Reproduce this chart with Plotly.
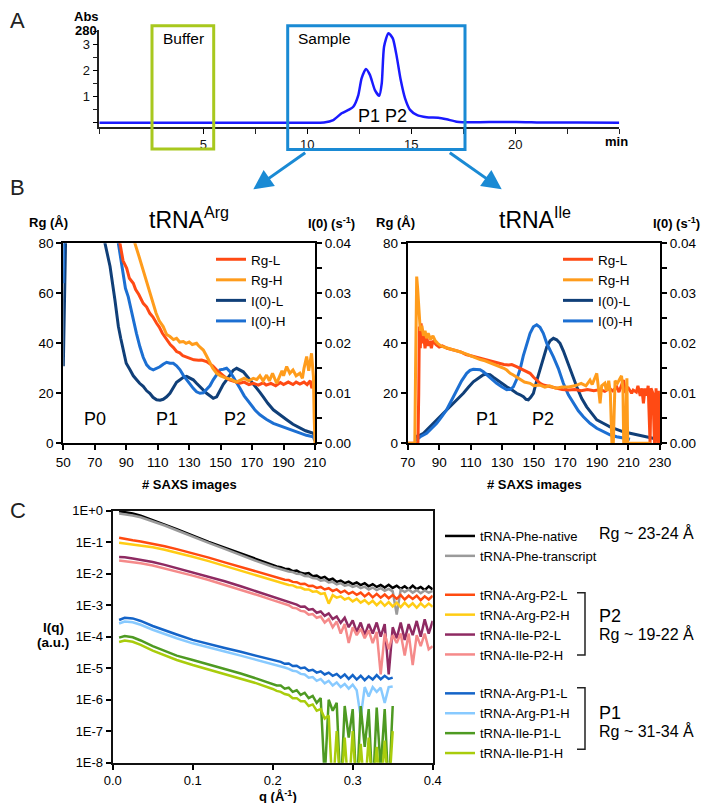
import plotly.graph_objects as go

FONT = "Liberation Sans, Arial, sans-serif"
# the page body has an 8 px margin, so the figure is sized to fit inside it
OFF = 8
W, H = 710 - 2 * OFF, 811 - 2 * OFF


def px(x):
    return (x - OFF) / W


def py(y):
    return 1 - (y - OFF) / H


# ---------------- Panel A : chromatogram ----------------
T_MIN = [0, 5, 10, 10.8, 11.25, 11.65, 12.0, 12.21, 12.45, 12.61, 12.82, 13.01, 13.25, 13.46,
         13.58, 13.69, 13.9, 14.11, 14.3, 14.49, 14.7, 14.94, 15.26, 15.74, 16.3, 16.7, 17.18,
         17.98, 19.0, 19.59, 20.5, 21.19, 23.0, 25.0]
ABS_280 = [0, 0, 0, 0.01, 0.1, 0.36, 0.5, 0.61, 1.05, 1.70, 2.06, 1.83, 1.25, 1.03,
           1.51, 2.91, 3.43, 3.23, 2.53, 1.64, 0.93, 0.49, 0.30, 0.21, 0.19, 0.13, 0.04,
           0.015, 0.025, 0.03, 0.02, 0.005, 0.01, 0.0]
A_XTICKS = [5, 10, 15, 20]
A_YTICKS = [0, 1, 2, 3]
A_YTICKTEXT = ["", "1", "2", "3"]

# ---------------- Panel B : tRNA-Arg ----------------
ARG_RGL_X = [84, 86, 88, 90.3, 92, 94.5, 96, 98, 100.8, 103, 105, 107, 109.3, 111, 113, 115.7, 118,
             120, 122, 124, 126, 128, 130.5, 133, 136, 138, 141, 143, 145, 147.5, 150, 152, 153.8,
             156, 159, 162.3, 165, 168, 170.8, 174, 177, 179, 182, 185, 188, 190, 193, 196, 198,
             200.4, 203, 205, 207, 208, 209, 210]
ARG_RGL = [90, 80, 73, 70, 66, 64, 61.5, 59.5, 56, 54.5, 52, 50.5, 48, 46.5, 44, 41.3, 39.5,
           38.3, 36.7, 36.2, 35, 34.6, 34, 33.4, 33.2, 33.3, 32.7, 32, 31, 29.3, 28, 27, 26,
           25.3, 24.7, 24, 24.5, 23.5, 24, 23.3, 24.2, 23.3, 24, 23, 24.3, 23.5, 24.5, 23.5, 24.5,
           23.7, 24.5, 23.5, 25, 22, 24.5, 23]
ARG_RGH_X = [94, 95.5, 98, 100.8, 103, 105, 107.2, 109, 111, 113.5, 115.7, 117.8, 120, 122, 124,
             126.3, 128, 130, 132, 134.7, 136, 139, 141, 143.2, 145, 147.5, 150, 153.8, 157, 160,
             162.3, 165, 168, 170.8, 173, 175, 177, 179.2, 181, 183, 185.6, 187, 189, 190, 192,
             194, 196, 198, 200.4, 202, 203, 204.7, 206, 207.8, 208.5, 209, 209.5, 210]
ARG_RGH = [90, 80, 75, 69.3, 64, 60, 56, 52, 49, 46.7, 43.5, 42.7, 41.5, 42, 40.5,
           40.7, 40, 40.5, 39.5, 40, 39, 37.3, 35, 32, 30, 28, 27, 26, 25.5, 24.5,
           25.3, 26, 25, 26, 25.5, 27, 25, 27.3, 25, 28, 24, 26, 29, 27, 30.7,
           28, 29.3, 27, 28, 26, 30, 34.7, 29, 36, 30, 26.7, 10, 0]
ARG_I0L_X = [50, 51, 52, 60, 70, 76.5, 79.7, 82.8, 85, 86.5, 88.1, 90, 92.4, 94.5, 96.6, 98.5,
             100.8, 103, 105, 107, 109.3, 111.5, 113.5, 115.7, 117.8, 120, 122, 124.2, 126.3,
             128.4, 130.5, 132.6, 134.7, 136.9, 139, 141.1, 143.2, 145.3, 147.5, 149.6, 151.7,
             153.8, 156, 158, 160.2, 162.3, 164.4, 166.5, 168.6, 170.8, 173, 175, 177.1, 180,
             183.5, 187, 192, 196, 200.4, 204, 208.9, 210]
ARG_I0L = [0.0154, 0.03, 0.05, 0.08, 0.08, 0.04, 0.0354, 0.0287, 0.0234, 0.021, 0.0187, 0.016,
           0.0147, 0.0135, 0.0127, 0.012, 0.0114, 0.0105, 0.0100, 0.0092, 0.0087, 0.0086, 0.0088,
           0.0093, 0.0100, 0.0112, 0.0122, 0.0127, 0.0132, 0.0134, 0.0131, 0.0127, 0.0120, 0.0113,
           0.0106, 0.0100, 0.0095, 0.0090, 0.0093, 0.0107, 0.0118, 0.0127, 0.0138, 0.0146, 0.0150,
           0.0147, 0.0143, 0.0135, 0.0127, 0.0120, 0.0110, 0.0102, 0.0093, 0.0080, 0.0067, 0.0058,
           0.0047, 0.0038, 0.0030, 0.0025, 0.0020, 0.0012]
ARG_I0H_X = [50, 50.5, 51, 60, 80, 85, 86.5, 88.1, 89.5, 91.3, 93, 94.5, 96.5, 98.7, 100.8, 103,
             105, 107.2, 109, 111.4, 113.5, 115.7, 117.8, 119.9, 122, 124.2, 126.3, 128.4, 130.5,
             132.6, 134.7, 136.9, 139, 141, 143.2, 145.3, 147.5, 149.6, 151.7, 153.8, 156, 158,
             160, 162.3, 165, 168.6, 172, 175, 179, 183.5, 188, 192, 196, 200.4, 204.5, 208.9, 210]
ARG_I0H = [0.032, 0.04, 0.06, 0.08, 0.08, 0.04, 0.037, 0.0347, 0.031, 0.0293, 0.0268, 0.0253,
           0.022, 0.0193, 0.0172, 0.0157, 0.0150, 0.0147, 0.0149, 0.0153, 0.0158, 0.0162, 0.0160,
           0.0160, 0.0155, 0.0147, 0.0136, 0.0127, 0.0118, 0.0110, 0.0103, 0.0100, 0.0101, 0.0107,
           0.0115, 0.0127, 0.0138, 0.0147, 0.0148, 0.0150, 0.0143, 0.0133, 0.0122, 0.0110, 0.0095,
           0.0080, 0.0066, 0.0057, 0.0048, 0.0040, 0.0035, 0.0030, 0.0025, 0.0020, 0.0016, 0.0013,
           0.0005]

# ---------------- Panel B : tRNA-Ile ----------------
ILE_RGL_X = [70, 76.5, 77, 77.4, 78, 78.5, 79.2, 80, 81, 82, 83, 84, 85, 86, 88, 90, 92, 95, 98,
             101, 104, 107, 110, 113, 116, 119, 122, 125, 128, 131, 134, 136, 139, 141.5, 143.4,
             145.5, 147.6, 149.7, 151.8, 154, 156, 158, 160.3, 164.5, 168, 172, 176, 180, 184, 188,
             192, 195, 198, 200, 202.6, 204, 206.8, 208, 210, 212, 213, 215, 216, 217.5, 218.5,
             219.5, 220.5, 221.5, 222.5, 223.7, 224.3, 225.5, 226.5, 227.5, 228.5, 229, 229.5, 230]
ILE_RGL = [0, 0, 20, 46.7, 38, 48, 40, 44, 38, 43, 39, 41, 38, 41, 39.5, 38.5, 39, 38, 37.5,
           37, 36.5, 35.5, 35, 34.5, 34, 33.5, 33, 32.3, 32, 31.5, 31.3, 31.5, 30.7, 30, 29.3,
           28.7, 28, 26.5, 25.3, 24, 23.3, 23, 22.7, 22, 21.5, 21.3, 21.5, 21, 21.5, 21,
           21.5, 20.8, 22, 21, 22.5, 20.5, 25.3, 21, 22, 20, 21.3, 20.5, 23, 19, 22,
           16, 22, 19, 23, 0, 22, 20, 0, 22, 0, 21, 0, 0]
ILE_RGH_X = [70, 74.5, 75, 75.7, 76.3, 76.8, 77.5, 78, 79, 80, 81, 82, 83, 84.5, 86, 87.5, 89, 91,
             93, 95, 98, 101, 104, 107, 110, 113, 116, 119, 122, 125, 128, 131, 132.8, 135, 137,
             139, 141.2, 144, 147.6, 150, 153.9, 157, 160, 164, 168, 172, 176, 180, 183, 185.6,
             187, 189.9, 191, 192, 193, 195, 196, 197.5, 198.5, 199.5, 200.4, 201.5, 203, 205.6,
             206.5, 207, 208, 209, 209.5, 224]
ILE_RGH = [0, 0, 30, 66.7, 62, 58, 50, 45, 47, 43, 45, 42, 44, 41.5, 43, 41, 40, 39,
           38.5, 38, 37.5, 37, 36.5, 35.8, 35, 34.2, 33.5, 33, 32.3, 31.5, 30.8, 30, 29.3, 28, 27.3,
           26.5, 25.3, 24.5, 24, 23, 23.3, 22.5, 23, 22, 22.5, 22.5, 23, 24, 23, 25.3,
           23.5, 28, 22, 16, 23, 24, 21, 25, 20, 0, 0, 25, 24, 27,
           22, 0, 0, 26, 0, 0]
ILE_I0L_X = [74.7, 77, 80, 83, 86.3, 89.5, 92.6, 95.8, 99, 102, 105.3, 108.5, 111.6, 114.8, 118,
             120, 122.2, 124.3, 126.4, 129.6, 132.8, 136, 139.1, 141.3, 143.4, 145, 146.5, 148,
             149.7, 151.8, 153.9, 156, 158.2, 160.3, 162.4, 164.5, 166.6, 168.7, 170.8, 174, 177.2,
             180.3, 183.5, 186.7, 189.9, 194, 198.3, 202.5, 206.8, 211, 215.2, 219.5, 223.7, 227, 230]
ILE_I0L = [0.0013, 0.0015, 0.0020, 0.0030, 0.0040, 0.0050, 0.0060, 0.0070, 0.0080, 0.0090, 0.0100,
           0.0112, 0.0123, 0.0130, 0.0137, 0.0138, 0.0137, 0.0132, 0.0127, 0.0120, 0.0113, 0.0107,
           0.0100, 0.0097, 0.0093, 0.0088, 0.0087, 0.0092, 0.0100, 0.0125, 0.0147, 0.0173, 0.0193,
           0.0205, 0.0210, 0.0207, 0.0200, 0.0185, 0.0167, 0.0140, 0.0113, 0.0090, 0.0073, 0.0060,
           0.0047, 0.0040, 0.0033, 0.0028, 0.0023, 0.0020, 0.0017, 0.0013, 0.0010, 0.0008, 0.0007]
ILE_I0H_X = [74.7, 78, 82, 85, 88.4, 91.5, 94.7, 98, 101.1, 104.2, 107.4, 109.5, 111.6, 113.8,
             115.9, 118, 120.1, 123.3, 126.4, 129.6, 132.8, 135, 137, 139, 141.2, 143.3, 145.5,
             147.6, 149.7, 151.8, 153.9, 156, 158.2, 160.3, 162.4, 165.5, 168.7, 171.9, 175.1,
             178.2, 181.4, 185.6, 189.9, 194, 198.3, 202.5, 206.8, 211]
ILE_I0H = [0.0005, 0.0013, 0.0020, 0.0030, 0.0040, 0.0053, 0.0067, 0.0087, 0.0107, 0.0125, 0.0140,
           0.0146, 0.0148, 0.0148, 0.0147, 0.0143, 0.0137, 0.0128, 0.0120, 0.0113, 0.0107, 0.0108,
           0.0113, 0.0127, 0.0147, 0.0175, 0.0200, 0.0220, 0.0233, 0.0237, 0.0232, 0.0220, 0.0200,
           0.0187, 0.0173, 0.0150, 0.0120, 0.0097, 0.0080, 0.0065, 0.0053, 0.0040, 0.0030, 0.0023,
           0.0017, 0.0013, 0.0010, 0.0008]

B_LEFT_XTICKS = [50, 70, 90, 110, 130, 150, 170, 190, 210]
B_RIGHT_XTICKS = [70, 90, 110, 130, 150, 170, 190, 210, 230]
RG_TICKS = [0, 20, 40, 60, 80]
I0_TICKS = [0, 0.01, 0.02, 0.03, 0.04]
I0_TICKTEXT = ["0.00", "0.01", "0.02", "0.03", "0.04"]

# ---------------- Panel C : SAXS curves (log10 I) ----------------
Q_C = [0.008, 0.015, 0.025, 0.035, 0.05, 0.065, 0.08, 0.10, 0.12, 0.14, 0.16, 0.18, 0.20,
       0.205, 0.21, 0.215, 0.22, 0.225, 0.23, 0.235, 0.24, 0.245, 0.25, 0.255, 0.26, 0.265,
       0.27, 0.275, 0.28, 0.285, 0.29, 0.295, 0.30, 0.305, 0.31, 0.315, 0.32, 0.325, 0.33,
       0.335, 0.34, 0.345, 0.35, 0.355, 0.36, 0.365, 0.37, 0.375, 0.38, 0.385, 0.39, 0.395, 0.40]
PHE_NATIVE = [-0.02, -0.04, -0.09, -0.16, -0.29, -0.44, -0.59, -0.80, -0.99, -1.17, -1.36, -1.55, -1.72,
              -1.77, -1.79, -1.84, -1.85, -1.92, -1.90, -1.97, -2.00, -1.98, -2.08, -2.06, -2.14, -2.10,
              -2.20, -2.16, -2.26, -2.22, -2.30, -2.25, -2.33, -2.28, -2.36, -2.30, -2.40, -2.33, -2.42,
              -2.36, -2.44, -2.35, -2.45, -2.38, -2.48, -2.40, -2.50, -2.38, -2.49, -2.42, -2.52, -2.40, -2.50]
PHE_TRANSCRIPT = [-0.09, -0.11, -0.15, -0.21, -0.33, -0.47, -0.62, -0.83, -1.02, -1.21, -1.41, -1.60, -1.78,
                  -1.82, -1.86, -1.88, -1.93, -1.95, -2.00, -2.01, -2.07, -2.08, -2.14, -2.15, -2.22, -2.20,
                  -2.28, -2.26, -2.34, -2.30, -2.38, -2.35, -2.42, -2.38, -2.46, -2.41, -2.50, -2.44, -2.52,
                  -2.46, -2.54, -2.48, -2.56, -3.30, -2.50, -2.58, -2.50, -2.60, -2.52, -2.62, -2.53, -2.60, -2.55]
ARG_P2_L = [-0.86, -0.90, -0.94, -0.98, -1.05, -1.13, -1.22, -1.35, -1.49, -1.64, -1.79, -1.94, -2.08,
            -2.12, -2.15, -2.19, -2.20, -2.26, -2.27, -2.33, -2.32, -2.39, -2.38, -2.45, -2.42, -2.50,
            -2.46, -2.55, -2.50, -2.60, -2.54, -2.64, -2.58, -2.67, -2.60, -2.72, -2.62, -2.75, -2.64,
            -2.76, -2.66, -2.78, -2.68, -2.80, -2.68, -2.82, -2.70, -2.80, -2.70, -2.84, -2.72, -2.82, -2.70]
ARG_P2_H = [-1.02, -1.04, -1.07, -1.10, -1.16, -1.24, -1.33, -1.46, -1.60, -1.75, -1.90, -2.05, -2.20,
            -2.24, -2.28, -2.30, -2.36, -2.37, -2.43, -2.44, -2.50, -2.50, -2.57, -2.56, -2.64, -2.62,
            -2.95, -2.68, -2.76, -2.72, -2.82, -2.77, -2.88, -2.80, -2.92, -2.84, -2.96, -2.86, -3.00,
            -2.88, -3.02, -2.90, -3.04, -2.92, -3.06, -2.92, -3.05, -2.94, -3.08, -2.94, -3.06, -2.95, -3.05]
ILE_P2_L = [-1.47, -1.48, -1.52, -1.56, -1.63, -1.72, -1.82, -1.95, -2.10, -2.24, -2.40, -2.56, -2.73,
            -2.76, -2.82, -2.84, -2.90, -2.93, -2.98, -3.05, -3.04, -3.14, -3.12, -3.24, -3.20, -3.34,
            -3.26, -3.44, -3.36, -3.56, -3.40, -3.70, -3.48, -3.85, -3.55, -3.95, -3.60, -3.90, -3.55,
            -4.00, -3.60, -5.20, -3.70, -4.05, -3.55, -4.10, -3.60, -3.95, -3.50, -4.00, -3.45, -3.90, -3.50]
ILE_P2_H = [-1.58, -1.60, -1.63, -1.67, -1.74, -1.83, -1.93, -2.06, -2.20, -2.35, -2.51, -2.67, -2.84,
            -2.88, -2.92, -2.98, -3.00, -3.08, -3.10, -3.18, -3.20, -3.30, -3.28, -3.40, -3.36, -3.55,
            -3.44, -3.70, -3.52, -3.90, -3.60, -4.20, -3.70, -3.95, -3.75, -4.05, -3.80, -4.20, -3.85,
            -5.20, -3.90, -4.40, -3.95, -4.20, -3.90, -4.60, -3.90, -4.90, -3.95, -4.30, -3.90, -4.40, -4.30]
ARG_P1_L = [-3.47, -3.40, -3.42, -3.50, -3.66, -3.80, -3.93, -4.10, -4.24, -4.36, -4.48, -4.61, -4.74,
            -4.78, -4.80, -4.86, -4.85, -4.93, -4.92, -5.00, -4.98, -5.08, -5.05, -5.14, -5.10, -5.20,
            -5.14, -5.24, -5.18, -5.30, -5.20, -5.34, -5.22, -5.36, -5.24, -5.38, -5.26, -5.36, -5.22,
            -5.35, -5.24, -5.34, -5.30]
ARG_P1_H = [-3.58, -3.52, -3.54, -3.62, -3.78, -3.92, -4.05, -4.21, -4.35, -4.47, -4.60, -4.73, -4.86,
            -4.90, -4.94, -4.98, -5.02, -5.08, -5.10, -5.18, -5.20, -5.30, -5.28, -5.40, -5.34, -5.48,
            -5.40, -5.55, -5.45, -5.60, -5.50, -5.65, -5.52, -5.70, -6.55, -5.60, -5.90, -5.60, -5.75,
            -5.62, -6.10, -5.60, -5.58]
ILE_P1_L = [-4.03, -3.98, -4.02, -4.12, -4.30, -4.46, -4.60, -4.74, -4.88, -5.02, -5.17, -5.33, -5.50,
            -5.55, -5.55, -5.65, -5.62, -5.75, -5.70, -5.85, -5.78, -5.95, -5.88, -6.10, -5.95, -8.50,
            -6.00, -6.35, -6.10, -9.00, -6.20, -7.20, -6.30, -9.00, -6.20, -7.50, -6.30, -9.00, -6.25,
            -8.20, -6.30, -9.00, -6.20]
ILE_P1_H = [-4.17, -4.12, -4.16, -4.26, -4.44, -4.60, -4.74, -4.90, -5.04, -5.18, -5.32, -5.48, -5.66,
            -5.72, -5.75, -5.82, -5.85, -5.95, -5.95, -6.05, -6.05, -6.20, -6.15, -6.35, -6.30, -6.60,
            -6.50, -9.00, -7.00, -9.00, -7.20, -9.00, -7.00, -9.00, -7.40, -9.00, -7.20, -9.00, -7.50,
            -9.00, -7.30, -9.00, -7.00]

C_NAMES = ["tRNA-Phe-native", "tRNA-Phe-transcript",
           "tRNA-Arg-P2-L", "tRNA-Arg-P2-H", "tRNA-Ile-P2-L", "tRNA-Ile-P2-H",
           "tRNA-Arg-P1-L", "tRNA-Arg-P1-H", "tRNA-Ile-P1-L", "tRNA-Ile-P1-H"]
C_SERIES = [PHE_NATIVE, PHE_TRANSCRIPT, ARG_P2_L, ARG_P2_H, ILE_P2_L, ILE_P2_H,
            ARG_P1_L, ARG_P1_H, ILE_P1_L, ILE_P1_H]
C_GROUPS = ["phe", "phe", "p2", "p2", "p2", "p2", "p1", "p1", "p1", "p1"]
C_COLORS = ["#000000", "#9a9a9a", "#ff4a10", "#ffcc14", "#8e2a62", "#f58a8a",
            "#1464c8", "#88caff", "#4e9a22", "#a9cc0c"]
C_YTICKS = [1, 1e-1, 1e-2, 1e-3, 1e-4, 1e-5, 1e-6, 1e-7, 1e-8]
C_YTICKTEXT = ["1E+0", "1E-1", "1E-2", "1E-3", "1E-4", "1E-5", "1E-6", "1E-7", "1E-8"]
C_XTICKS = [0, 0.1, 0.2, 0.3, 0.4]
C_XTICKTEXT = ["0.0", "0.1", "0.2", "0.3", "0.4"]

COL_RGL = "#ff4a14"
COL_RGH = "#ff9c1c"
COL_I0L = "#103f78"
COL_I0H = "#1c6fd2"

fig = go.Figure()

fig.add_trace(go.Scatter(x=T_MIN, y=ABS_280, mode="lines", showlegend=False,
                         line=dict(color="#1a1aff", width=2.5, shape="spline", smoothing=0.6),
                         xaxis="x", yaxis="y", hoverinfo="skip"))


def add_b(xs, ys, name, color, xa, ya, leg, rank):
    fig.add_trace(go.Scatter(x=xs, y=ys, mode="lines", name=name,
                             line=dict(color=color, width=3),
                             xaxis=xa, yaxis=ya, legend=leg, legendrank=rank))


add_b(ARG_I0L_X, ARG_I0L, "I(0)-L", COL_I0L, "x2", "y2", "legend", 3)
add_b(ARG_I0H_X, ARG_I0H, "I(0)-H", COL_I0H, "x2", "y2", "legend", 4)
add_b(ARG_RGL_X, ARG_RGL, "Rg-L", COL_RGL, "x2", "y3", "legend", 1)
add_b(ARG_RGH_X, ARG_RGH, "Rg-H", COL_RGH, "x2", "y3", "legend", 2)

add_b(ILE_I0L_X, ILE_I0L, "I(0)-L", COL_I0L, "x3", "y4", "legend2", 3)
add_b(ILE_I0H_X, ILE_I0H, "I(0)-H", COL_I0H, "x3", "y4", "legend2", 4)
add_b(ILE_RGL_X, ILE_RGL, "Rg-L", COL_RGL, "x3", "y5", "legend2", 1)
add_b(ILE_RGH_X, ILE_RGH, "Rg-H", COL_RGH, "x3", "y5", "legend2", 2)

for name, vals, grp, col in zip(C_NAMES, C_SERIES, C_GROUPS, C_COLORS):
    fig.add_trace(go.Scatter(x=Q_C[:len(vals)], y=[10 ** v for v in vals], mode="lines",
                             name=name, legendgroup=grp, legend="legend3",
                             line=dict(color=col, width=2.5),
                             xaxis="x4", yaxis="y6"))

tickfont = dict(family=FONT, size=13.5, color="black")
base = dict(showgrid=False, zeroline=False, showline=True, linecolor="black",
            tickcolor="black", tickfont=tickfont)

layout = dict(
    width=W, height=H, margin=dict(l=0, r=0, t=0, b=0, autoexpand=False),
    paper_bgcolor="white", plot_bgcolor="white",
    font=dict(family=FONT, color="black"),
    showlegend=True,
    xaxis=dict(base, domain=[px(99.3), px(619.3)], range=[0, 25], anchor="y",
               linewidth=1.5, linecolor="#222", ticks="outside", ticklen=5,
               tickvals=A_XTICKS, tickfont=dict(family=FONT, size=13, color="#111"),
               minor=dict(ticks="outside", dtick=2.5, tick0=0, ticklen=5, tickcolor="#222")),
    yaxis=dict(base, domain=[py(127), py(30)], range=[-0.165, 3.55], anchor="x",
               linewidth=1.5, linecolor="#222", ticks="outside", ticklen=5,
               tickvals=A_YTICKS, ticktext=A_YTICKTEXT,
               tickfont=dict(family=FONT, size=13, color="#111"),
               minor=dict(ticks="outside", dtick=0.5, tick0=0, ticklen=5, tickcolor="#222")),
    xaxis2=dict(base, domain=[px(63.3), px(315)], range=[50, 210], anchor="y2",
                linewidth=2, mirror=True, ticks="outside", ticklen=5, tickwidth=1.5,
                tickvals=B_LEFT_XTICKS),
    yaxis2=dict(base, domain=[py(443.3), py(243.3)], range=[0, 0.04], anchor="x2",
                side="right", linewidth=2, ticks="outside", ticklen=5, tickwidth=1.5,
                tickvals=I0_TICKS, ticktext=I0_TICKTEXT,
                minor=dict(ticks="outside", dtick=0.005, tick0=0, ticklen=5, tickcolor="black")),
    yaxis3=dict(base, range=[0, 80], anchor="x2", overlaying="y2", side="left",
                linewidth=2, ticks="outside", ticklen=5, tickwidth=1.5, tickvals=RG_TICKS),
    xaxis3=dict(base, domain=[px(407.7), px(660)], range=[70, 230], anchor="y4",
                linewidth=2, mirror=True, ticks="outside", ticklen=5, tickwidth=1.5,
                tickvals=B_RIGHT_XTICKS),
    yaxis4=dict(base, domain=[py(443.3), py(243.3)], range=[0, 0.04], anchor="x3",
                side="right", linewidth=2, ticks="outside", ticklen=5, tickwidth=1.5,
                tickvals=I0_TICKS, ticktext=I0_TICKTEXT,
                minor=dict(ticks="outside", dtick=0.005, tick0=0, ticklen=5, tickcolor="black")),
    yaxis5=dict(base, range=[0, 80], anchor="x3", overlaying="y4", side="left",
                linewidth=2, ticks="outside", ticklen=5, tickwidth=1.5, tickvals=RG_TICKS),
    xaxis4=dict(base, domain=[px(112.7), px(432.7)], range=[0, 0.4], anchor="y6",
                linewidth=2, linecolor="#111", mirror=True, ticks="outside", ticklen=5,
                tickwidth=1.5, tickvals=C_XTICKS, ticktext=C_XTICKTEXT,
                tickfont=dict(family=FONT, size=13, color="black")),
    yaxis6=dict(base, domain=[py(762.7), py(510.7)], type="log", range=[-8, 0], anchor="x4",
                linewidth=2, linecolor="#111", mirror=True, ticks="outside", ticklen=5,
                tickwidth=1.5, tickvals=C_YTICKS, ticktext=C_YTICKTEXT,
                tickfont=dict(family=FONT, size=13, color="black")),
    legend=dict(x=px(211), y=py(244), xanchor="left", yanchor="top",
                font=dict(family=FONT, size=13.5, color="black"),
                bgcolor="rgba(0,0,0,0)", borderwidth=0, itemwidth=30, traceorder="normal"),
    legend2=dict(x=px(558), y=py(244), xanchor="left", yanchor="top",
                 font=dict(family=FONT, size=13.5, color="black"),
                 bgcolor="rgba(0,0,0,0)", borderwidth=0, itemwidth=30, traceorder="normal"),
    legend3=dict(x=px(440), y=py(521), xanchor="left", yanchor="top",
                 font=dict(family=FONT, size=13, color="black"),
                 bgcolor="rgba(0,0,0,0)", borderwidth=0, itemwidth=30,
                 traceorder="grouped", tracegroupgap=19),
)
fig.update_layout(**layout)


def ann(text, x, y, size, bold=False, xanchor="center", yanchor="middle",
        xref="paper", yref="paper", color="black"):
    if bold:
        text = "<b>" + text + "</b>"
    return dict(text=text, x=x, y=y, xref=xref, yref=yref, showarrow=False,
                xanchor=xanchor, yanchor=yanchor, borderpad=0,
                font=dict(family=FONT, size=size, color=color))


annotations = [
    ann("A", px(17), py(21), 22, color="#222"),
    ann("B", px(17.5), py(187.5), 22, color="#222"),
    ann("C", px(18), py(510.5), 22, color="#222"),
    ann("Abs", px(86.5), py(17), 13, bold=True),
    ann("280", px(85.5), py(31), 13, bold=True),
    ann("min", px(616), py(141.7), 13, bold=True),
    ann("Buffer", px(183.3), py(38.5), 15.5),
    ann("Sample", px(296.7), py(38.5), 15.5, xanchor="left"),
    ann("P1 P2", 13.63, 0.26, 18, xref="x", yref="y"),
    ann("Rg (Å)", px(48), py(223), 13, bold=True),
    ann("tRNA<sup>Arg</sup>", px(189), py(218), 23),
    ann("I(0) (s<sup>-1</sup>)", px(331.7), py(223), 13, bold=True),
    ann("# SAXS images", px(189), py(484), 13, bold=True),
    ann("P0", 70.3, 9.7, 18, xref="x2", yref="y3"),
    ann("P1", 116.1, 9.7, 18, xref="x2", yref="y3"),
    ann("P2", 159.1, 9.7, 18, xref="x2", yref="y3"),
    ann("Rg (Å)", px(395), py(223), 13, bold=True),
    ann("tRNA<sup>Ile</sup>", px(535), py(218), 23),
    ann("I(0) (s<sup>-1</sup>)", px(701), py(223), 13, bold=True, xanchor="right"),
    ann("# SAXS images", px(534), py(484), 13, bold=True),
    ann("P1", 120.1, 9.7, 18, xref="x3", yref="y5"),
    ann("P2", 156.0, 9.7, 18, xref="x3", yref="y5"),
    ann("q (Å<sup>-1</sup>)", px(278), py(796), 13, bold=True),
    ann("I(q)", px(53), py(627), 13.5, bold=True),
    ann("(a.u.)", px(53), py(642), 13.5, bold=True),
    ann("Rg ~ 23-24 Å", px(598), py(533.3), 16, xanchor="left"),
    ann("P2", px(598), py(616), 18, xanchor="left"),
    ann("Rg ~ 19-22 Å", px(598), py(634), 16, xanchor="left"),
    ann("P1", px(598), py(712.7), 18, xanchor="left"),
    ann("Rg ~ 31-34 Å", px(598), py(730.7), 16, xanchor="left"),
]
for hx, tx in [(253.3, 306.7), (501.7, 448.3)]:
    annotations.append(dict(x=px(hx), y=py(189.3), xref="paper", yref="paper",
                            ax=tx - hx, ay=151.7 - 189.3, axref="pixel", ayref="pixel",
                            text="", showarrow=True, arrowhead=2, arrowsize=1.3,
                            arrowwidth=3, arrowcolor="#1a8ad4"))


def bracket(top, bottom):
    return dict(type="path", xref="paper", yref="paper",
                path=(f"M {px(577)},{py(top)} L {px(585)},{py(top)} "
                      f"L {px(585)},{py(bottom)} L {px(577)},{py(bottom)}"),
                line=dict(color="#222", width=1.5))


shapes = [
    dict(type="rect", xref="paper", yref="paper", x0=px(152), x1=px(213.7),
         y0=py(149), y1=py(25.7), line=dict(color="#a8c81e", width=3)),
    dict(type="rect", xref="paper", yref="paper", x0=px(287.7), x1=px(465),
         y0=py(149.5), y1=py(25.7), line=dict(color="#1a8ad4", width=3)),
    bracket(592.7, 655),
    bracket(687.7, 749.3),
]
fig.update_layout(annotations=annotations, shapes=shapes)

fig.write_html("out.html")
